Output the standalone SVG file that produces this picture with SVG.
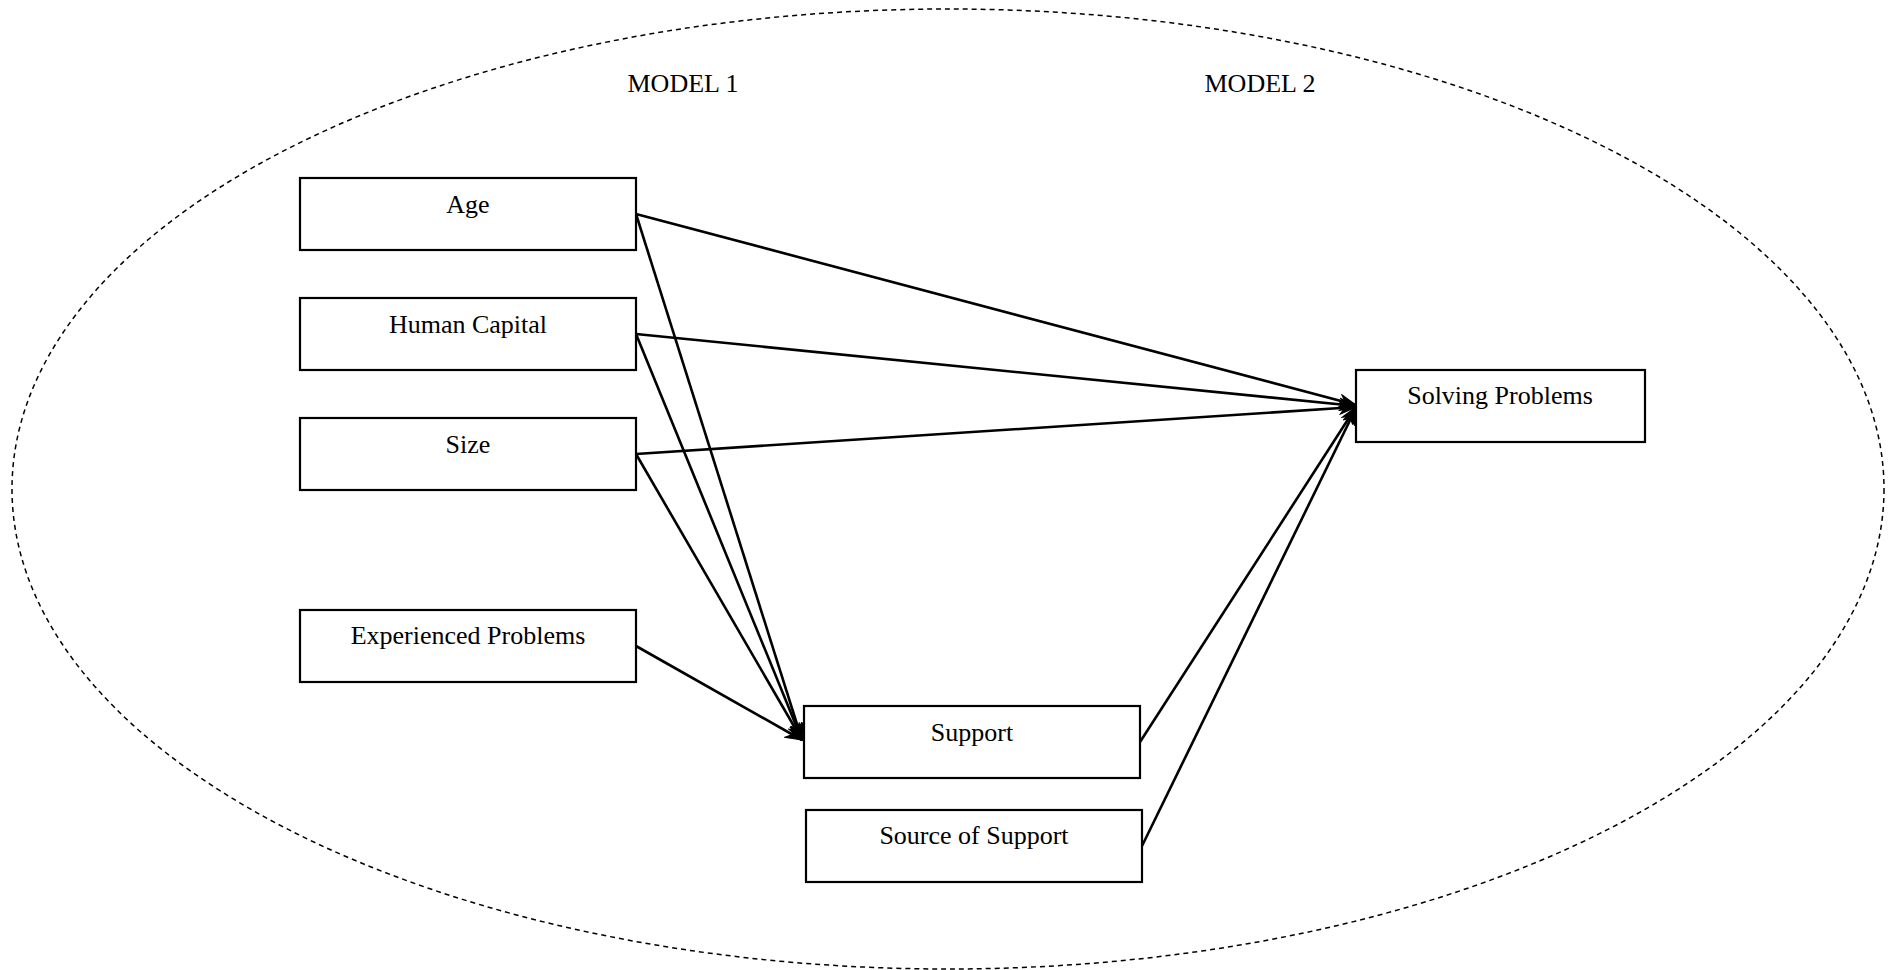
<svg xmlns="http://www.w3.org/2000/svg" width="1888" height="970" viewBox="0 0 1888 970">
<defs>
<style>
.box{fill:#fff;stroke:#000;stroke-width:2.2}
.lbl{font-family:"Liberation Serif","Times New Roman",serif;font-size:26px;fill:#000;text-anchor:middle}
.conn{stroke:#000;stroke-width:2.6;fill:none;marker-end:url(#arr)}
</style>
<marker id="arr" viewBox="0 0 18 14" refX="17" refY="7" markerWidth="18" markerHeight="14" markerUnits="userSpaceOnUse" orient="auto">
<path d="M1,1 L17,7 L1,13 L6,7 Z" fill="#000" stroke="#000" stroke-width="1.2" stroke-linejoin="miter"/>
</marker>
</defs>
<rect width="1888" height="970" fill="#fff"/>
<ellipse cx="948" cy="489" rx="936" ry="480" fill="none" stroke="#000" stroke-width="1.5" stroke-dasharray="5,4"/>
<text class="lbl" x="683" y="92">MODEL 1</text>
<text class="lbl" x="1260" y="92">MODEL 2</text>
<g id="connectors">
<line class="conn" x1="636" y1="214" x2="1356" y2="405"/>
<line class="conn" x1="636" y1="334" x2="1356" y2="406"/>
<line class="conn" x1="636" y1="454" x2="1356" y2="407"/>
<line class="conn" x1="636" y1="214" x2="802" y2="740"/>
<line class="conn" x1="636" y1="334" x2="802" y2="740"/>
<line class="conn" x1="636" y1="454" x2="802" y2="740"/>
<line class="conn" x1="636" y1="646" x2="802" y2="740"/>
<line class="conn" x1="1140" y1="742" x2="1356" y2="407"/>
<line class="conn" x1="1142" y1="846" x2="1356" y2="408"/>
</g>
<g id="age"><rect class="box" x="300" y="178" width="336" height="72"/><text class="lbl" x="468" y="213">Age</text></g>
<g id="human-capital"><rect class="box" x="300" y="298" width="336" height="72"/><text class="lbl" x="468" y="333">Human Capital</text></g>
<g id="size"><rect class="box" x="300" y="418" width="336" height="72"/><text class="lbl" x="468" y="453">Size</text></g>
<g id="experienced-problems"><rect class="box" x="300" y="610" width="336" height="72"/><text class="lbl" x="468" y="644">Experienced Problems</text></g>
<g id="support"><rect class="box" x="804" y="706" width="336" height="72"/><text class="lbl" x="972" y="741">Support</text></g>
<g id="source-of-support"><rect class="box" x="806" y="810" width="336" height="72"/><text class="lbl" x="974" y="844">Source of Support</text></g>
<g id="solving-problems"><rect class="box" x="1356" y="370" width="289" height="72"/><text class="lbl" x="1500" y="404">Solving Problems</text></g>
</svg>
